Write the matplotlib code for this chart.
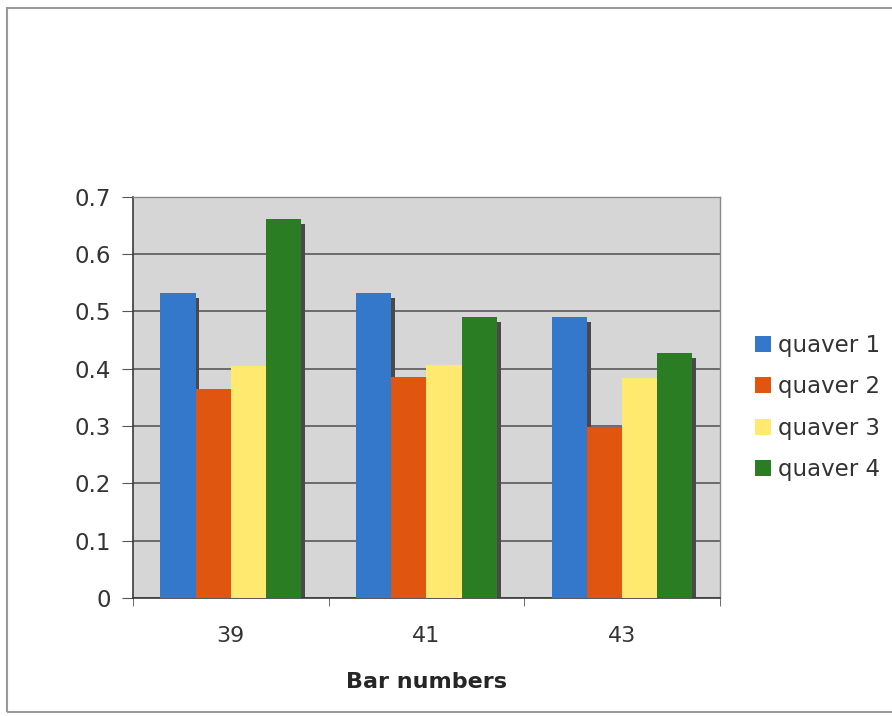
import matplotlib.pyplot as plt
import matplotlib.patches as patches
import numpy as np

plt.rcParams["font.family"] = "DejaVu Sans"

# quaver timing per bar
bar_numbers = ["39", "41", "43"]
quaver_1 = [0.532, 0.533, 0.491]
quaver_2 = [0.365, 0.386, 0.299]
quaver_3 = [0.405, 0.407, 0.384]
quaver_4 = [0.661, 0.491, 0.427]

series = [quaver_1, quaver_2, quaver_3, quaver_4]
names = ["quaver 1", "quaver 2", "quaver 3", "quaver 4"]
colors = ["#3478cc", "#e0550f", "#ffe96e", "#2a7d22"]

fig = plt.figure(figsize=(8.92, 7.16), dpi=100)
ax = fig.add_axes([0.149, 0.165, 0.658, 0.560])
ax.set_facecolor("#d6d6d6")

x = np.arange(len(bar_numbers))
width = 0.18
for i, vals in enumerate(series):
    pos = x + (i - 1.5) * width
    # drop shadow behind each bar
    ax.bar(pos + 0.02, np.array(vals) - 0.009, width, color="#4a4848",
           zorder=2)
    ax.bar(pos, vals, width, color=colors[i], label=names[i], zorder=3)

ax.set_xlim(-0.5, 2.5)
ax.set_ylim(0, 0.7)
ax.set_yticks(np.arange(0, 0.71, 0.1))
ax.set_yticklabels(["0", "0.1", "0.2", "0.3", "0.4", "0.5", "0.6", "0.7"])
ax.yaxis.grid(True, color="#4d4d4d", linewidth=1.1, zorder=1)
ax.set_axisbelow(True)

ax.set_xticks(x)
ax.set_xticklabels(bar_numbers)
ax.set_xticks([-0.5, 0.5, 1.5, 2.5], minor=True)
ax.tick_params(axis="x", which="major", length=0, pad=20,
               labelsize=16, labelcolor="#333333")
ax.tick_params(axis="x", which="minor", length=6, color="#555555")
ax.tick_params(axis="y", length=8, color="#555555", pad=8,
               labelsize=16.5, labelcolor="#333333")

for side in ["left", "bottom"]:
    ax.spines[side].set_color("#3a3a3a")
    ax.spines[side].set_linewidth(1.2)
for side in ["top", "right"]:
    ax.spines[side].set_color("#8a8a8a")
    ax.spines[side].set_linewidth(1.0)

ax.set_xlabel("Bar numbers", fontsize=16, fontweight="bold",
              color="#262626", labelpad=19)

leg = ax.legend(loc="center left", bbox_to_anchor=(1.045, 0.475), frameon=False,
                fontsize=16.5, handlelength=0.7, handleheight=0.7,
                handletextpad=0.3, labelspacing=0.8, labelcolor="#333333",
                borderaxespad=0)

# grey frame round the whole chart
frame = patches.Rectangle((7 / 892, 4 / 716), 1.0, 1 - 12 / 716,
                          transform=fig.transFigure, fill=False,
                          edgecolor="#9a9a9a", linewidth=1.5)
fig.patches.append(frame)

fig.savefig("out.png", dpi=100)
